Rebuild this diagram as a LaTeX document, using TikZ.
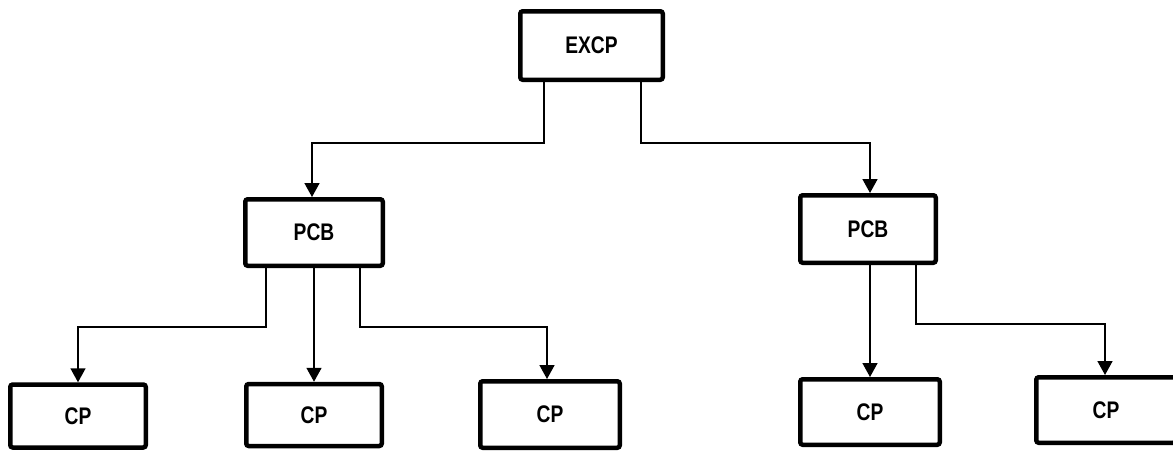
\documentclass[tikz,border=0pt]{standalone}
\usepackage{fontspec}
\setmainfont{Liberation Sans}[FakeStretch=0.8]
\usetikzlibrary{arrows.meta}
\tikzset{
  box/.style={draw, line width=4.5pt, rounded corners=2.5pt, inner sep=0pt,
    font=\bfseries\fontsize{24}{26}\selectfont},
  conn/.style={line width=1.6pt, -{Triangle[width=15pt,length=14pt]}}
}
\begin{document}
\begin{tikzpicture}[x=1pt,y=-1pt]
\clip (0,0) rectangle (1173,451);
\fill[white] (0,0) rectangle (1173,451);
\node[box, minimum width=142.5pt, minimum height=68.5pt] (EXCP) at (591.5,45.5) {EXCP};
\node[box, minimum width=137.5pt, minimum height=66.5pt] (PCB1) at (314,232.5) {PCB};
\node[box, minimum width=135.5pt, minimum height=67.5pt] (PCB2) at (868,229) {PCB};
\node[box, minimum width=135.5pt, minimum height=63pt] (CP1) at (78,416) {CP};
\node[box, minimum width=135.5pt, minimum height=62pt] (CP2) at (314,415) {CP};
\node[box, minimum width=139.5pt, minimum height=66.5pt] (CP3) at (550,414.5) {CP};
\node[box, minimum width=139.5pt, minimum height=65.5pt] (CP4) at (870,412) {CP};
\node[box, minimum width=139.5pt, minimum height=65.5pt] (CP5) at (1106,410) {CP};
\draw[conn] ([xshift=-47.5pt]EXCP.south) -- ++(0,61) -| ([xshift=-2pt]PCB1.north);
\draw[conn] ([xshift=49.5pt]EXCP.south) -- ++(0,61) -| ([xshift=2pt]PCB2.north);
\draw[conn] ([xshift=-48pt]PCB1.south) -- ++(0,59) -| (CP1.north);
\draw[conn] (PCB1.south) -- (CP2.north);
\draw[conn] ([xshift=46pt]PCB1.south) -- ++(0,59) -| ([xshift=-3pt]CP3.north);
\draw[conn] ([xshift=2pt]PCB2.south) -- (CP4.north);
\draw[conn] ([xshift=48pt]PCB2.south) -- ++(0,59) -| ([xshift=-1pt]CP5.north);
\end{tikzpicture}
\end{document}
